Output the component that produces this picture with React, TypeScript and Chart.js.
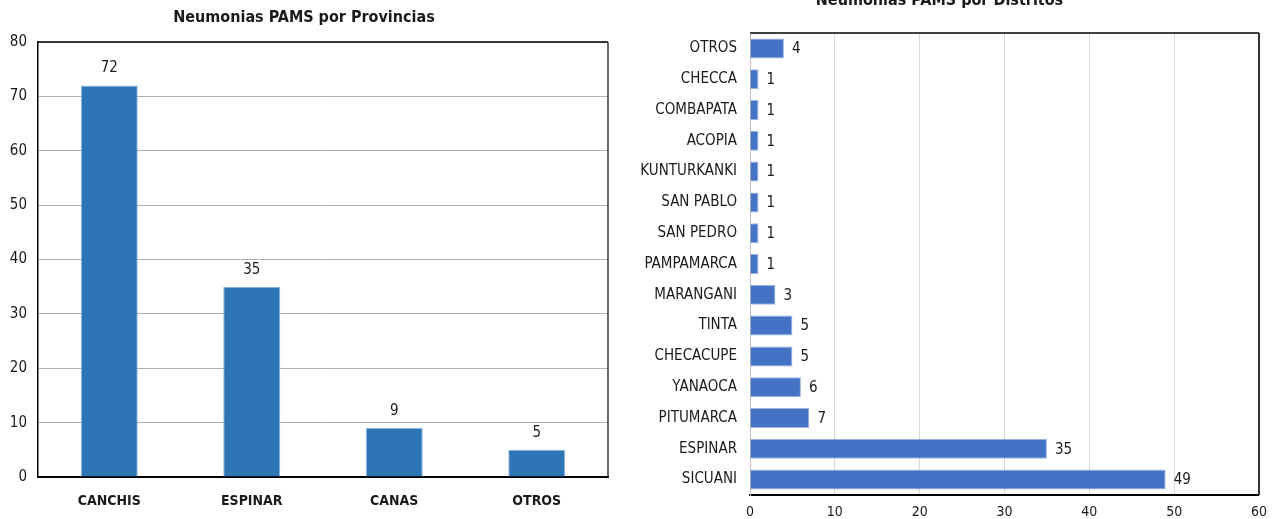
import React, { useEffect, useRef } from "react";
import { Chart, registerables } from "chart.js";

Chart.register(...registerables);

const provinceTitle = "Neumonias PAMS por Provincias";
const provinceLabels = ["CANCHIS", "ESPINAR", "CANAS", "OTROS"];
const provinceValues = [72, 35, 9, 5];

const districtTitle = "Neumonias PAMS por Distritos";
const districtLabels = [
  "OTROS",
  "CHECCA",
  "COMBAPATA",
  "ACOPIA",
  "KUNTURKANKI",
  "SAN PABLO",
  "SAN PEDRO",
  "PAMPAMARCA",
  "MARANGANI",
  "TINTA",
  "CHECACUPE",
  "YANAOCA",
  "PITUMARCA",
  "ESPINAR",
  "SICUANI",
];
const districtValues = [4, 1, 1, 1, 1, 1, 1, 1, 3, 5, 5, 6, 7, 35, 49];

const FONT = "'Liberation Sans Narrow', 'DejaVu Sans Condensed', 'Liberation Sans', sans-serif";
const TEXT = "#1a1a1a";

function valueLabels(horizontal: boolean) {
  return {
    id: "valueLabels" + (horizontal ? "H" : "V"),
    afterDatasetsDraw(chart: any) {
      const ctx = chart.ctx;
      const meta = chart.getDatasetMeta(0);
      const data = chart.data.datasets[0].data;
      ctx.save();
      ctx.fillStyle = TEXT;
      ctx.font = `15px ${FONT}`;
      meta.data.forEach((el: any, i: number) => {
        const v = String(data[i]);
        if (horizontal) {
          ctx.textAlign = "left";
          ctx.textBaseline = "middle";
          ctx.fillText(v, el.x + 8, el.y + 1);
        } else {
          ctx.textAlign = "center";
          ctx.textBaseline = "middle";
          ctx.fillText(v, el.x, el.y - 17);
        }
      });
      ctx.restore();
    },
  };
}

function frame(topColor: string, rightColor: string, width: number) {
  return {
    id: "frame",
    afterDraw(chart: any) {
      const { ctx, chartArea } = chart;
      const { left, right, top, bottom } = chartArea;
      ctx.save();
      ctx.lineWidth = width;
      ctx.strokeStyle = topColor;
      ctx.beginPath();
      ctx.moveTo(left, top);
      ctx.lineTo(right, top);
      ctx.stroke();
      ctx.strokeStyle = rightColor;
      ctx.beginPath();
      ctx.moveTo(right, top);
      ctx.lineTo(right, bottom);
      ctx.stroke();
      ctx.restore();
    },
  };
}

function ProvinceChart() {
  const ref = useRef<HTMLCanvasElement>(null);
  useEffect(() => {
    if (!ref.current) return;
    const chart = new Chart(ref.current, {
      type: "bar",
      data: {
        labels: provinceLabels,
        datasets: [
          {
            data: provinceValues,
            backgroundColor: "#2E75B6",
            borderColor: "#8DB4E2",
            borderWidth: 1,
            barPercentage: 0.4,
            categoryPercentage: 1,
          },
        ],
      },
      options: {
        responsive: false,
        animation: false,
        devicePixelRatio: 1,
        layout: { padding: { left: 0, right: 12, top: 0, bottom: 0 } },
        plugins: {
          legend: { display: false },
          tooltip: { enabled: false },
          title: {
            display: true,
            text: provinceTitle,
            color: TEXT,
            font: { family: FONT, size: 16, weight: "bold" },
            padding: { top: 8.4, bottom: 14.4 },
          },
        },
        scales: {
          x: {
            grid: { display: false },
            border: { color: "#000", width: 2 },
            ticks: {
              color: TEXT,
              font: { family: FONT, size: 14, weight: "bold" },
              padding: 8,
            },
            afterFit: (s: any) => {
              s.height = 42;
            },
          },
          y: {
            min: 0,
            max: 80,
            ticks: {
              stepSize: 10,
              color: TEXT,
              font: { family: FONT, size: 15 },
              padding: 11,
            },
            grid: { color: "#B0B0B0", drawTicks: false },
            border: { color: "#000", width: 1.5 },
            afterFit: (s: any) => {
              s.width = 38;
            },
          },
        },
      },
      plugins: [valueLabels(false), frame("#000", "#333", 1.5)],
    } as any);
    return () => chart.destroy();
  }, []);
  return (
    <canvas
      ref={ref}
      width={620}
      height={519}
      style={{ position: "absolute", left: 0, top: 0, width: 620, height: 519 }}
    />
  );
}

function DistrictChart() {
  const ref = useRef<HTMLCanvasElement>(null);
  useEffect(() => {
    if (!ref.current) return;
    const chart = new Chart(ref.current, {
      type: "bar",
      data: {
        labels: districtLabels,
        datasets: [
          {
            data: districtValues,
            backgroundColor: "#4472C4",
            borderColor: "#9DB5E0",
            borderWidth: 1,
            barPercentage: 0.65,
            categoryPercentage: 1,
          },
        ],
      },
      options: {
        indexAxis: "y",
        responsive: false,
        animation: false,
        devicePixelRatio: 1,
        layout: { padding: { left: 0, right: 17, top: 0, bottom: 0 } },
        plugins: {
          legend: { display: false },
          tooltip: { enabled: false },
          title: {
            display: true,
            text: districtTitle,
            color: TEXT,
            font: { family: FONT, size: 16, weight: "bold" },
            padding: { top: 8.4, bottom: 22.4 },
          },
        },
        scales: {
          x: {
            min: 0,
            max: 60,
            ticks: {
              stepSize: 10,
              color: TEXT,
              font: { family: FONT, size: 14 },
              padding: 9,
            },
            grid: { color: "#D9D9D9", drawTicks: false },
            border: { color: "#000", width: 2 },
            afterFit: (s: any) => {
              s.height = 24;
            },
          },
          y: {
            grid: { display: false },
            ticks: {
              color: TEXT,
              font: { family: FONT, size: 15 },
              padding: 5,
            },
            border: { color: "#BFBFBF", width: 1 },
            afterFit: (s: any) => {
              s.width = 130;
            },
          },
        },
      },
      plugins: [valueLabels(true), frame("#404040", "#333", 2)],
    } as any);
    return () => chart.destroy();
  }, []);
  return (
    <canvas
      ref={ref}
      width={656}
      height={536}
      style={{ position: "absolute", left: 620, top: -17, width: 656, height: 536 }}
    />
  );
}

export default function App() {
  return (
    <div
      style={{
        position: "fixed",
        left: 0,
        top: 0,
        width: 1276,
        height: 519,
        overflow: "hidden",
        background: "#fff",
      }}
    >
      <ProvinceChart />
      <DistrictChart />
    </div>
  );
}
